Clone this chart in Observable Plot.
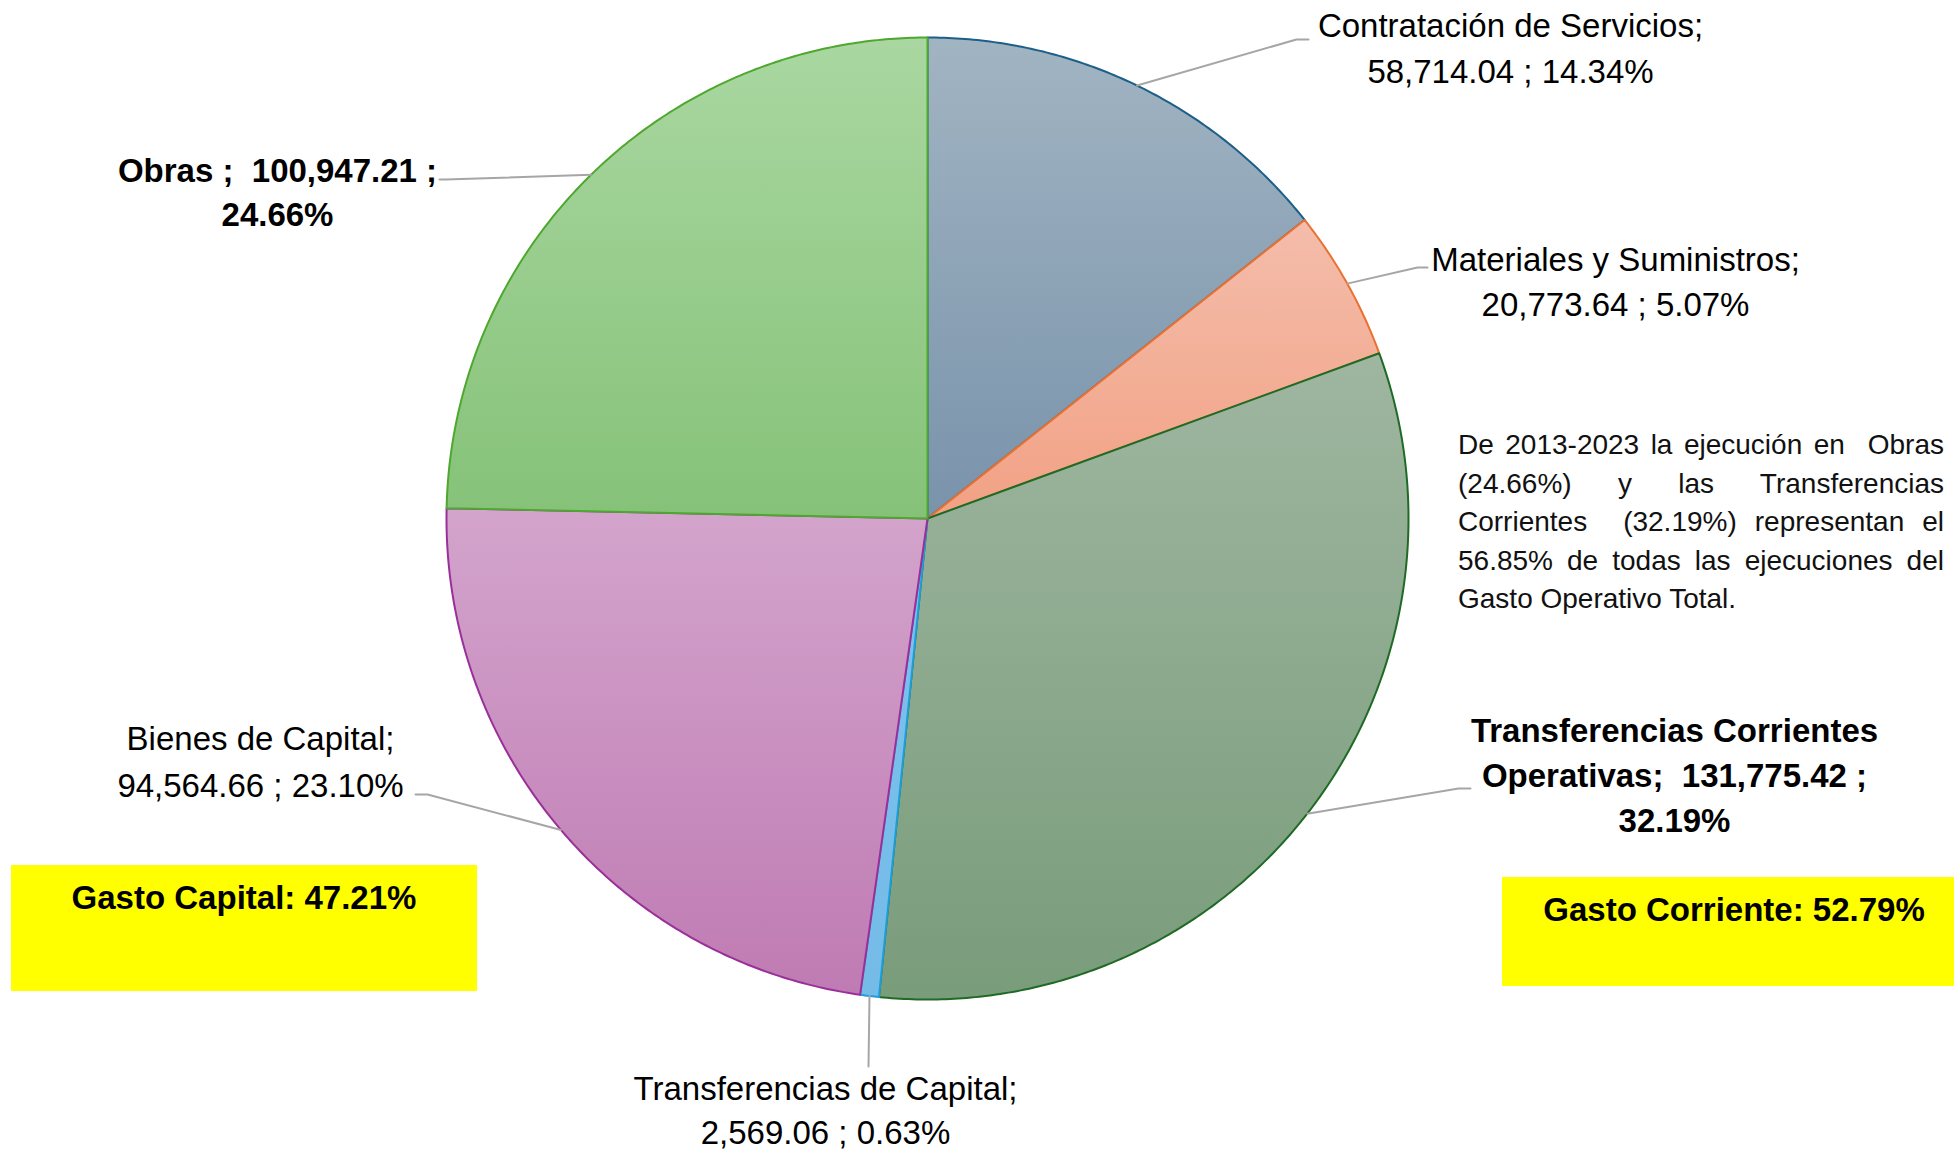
<!DOCTYPE html>
<html>
<head>
<meta charset="utf-8">
<script src="https://cdn.jsdelivr.net/npm/d3@7"></script>
<script src="https://cdn.jsdelivr.net/npm/@observablehq/plot@0.6"></script>
<style>
  body { margin: 0; background: #fff; }
  #wrap { position: relative; width: 1954px; height: 1150px; overflow: hidden; background: #fff; }
  #chart svg { display: block; }
  #note { position: absolute; left: 1458px; top: 426px; width: 486px; font-family: "Liberation Sans", Arial, sans-serif;
          font-size: 28px; line-height: 38.6px; text-align: justify; color: #111; white-space: pre-wrap; }
  .box { position: absolute; background: #ffff00; }
  .box div { position: absolute; left: 0; right: 0; text-align: center; font-family: "Liberation Sans", Arial, sans-serif;
             font-weight: 700; font-size: 33px; color: #000; white-space: nowrap; }
</style>
</head>
<body>
<div id="wrap">
  <div id="chart"></div>
  <div id="note"></div>
  <div id="boxCap" class="box" style="left:11px;top:865px;width:466px;height:126px;"><div style="top:14px;"></div></div>
  <div id="boxCor" class="box" style="left:1502px;top:877px;width:452px;height:109px;"><div style="top:14px;padding-left:12px;"></div></div>
</div>
<script>
// ---------------- DATA ----------------
const categories = [
  "Contratación de Servicios",
  "Materiales y Suministros",
  "Transferencias Corrientes Operativas",
  "Transferencias de Capital",
  "Bienes de Capital",
  "Obras"
];
const values = [58714.04, 20773.64, 131775.42, 2569.06, 94564.66, 100947.21];
const groupLabels = ["Gasto Capital", "Gasto Corriente"];
const groupShares = [47.21, 52.79];
const noteText = "De 2013-2023 la ejecución en  Obras (24.66%) y las Transferencias Corrientes  (32.19%) representan el 56.85% de todas las ejecuciones del Gasto Operativo Total.";

// ---------------- STYLE / LAYOUT ----------------
const W = 1954, H = 1150;
const CX = 927, CY = 518, R = 481;          // pie centre and radius in pixels
const gradTop    = ["#a1b4c2", "#f4bdab", "#9fb6a0", "#7ec2ee", "#d3a4cc", "#aad7a1"];
const gradBottom = ["#7993ab", "#f2a184", "#799c7b", "#74bbe8", "#bf7bb3", "#85c278"];
const strokes    = ["#1d5f87", "#e97132", "#1f6b25", "#1e9ed9", "#9a2f9a", "#4ea72e"];
// label layout: leader bend/end points and text block centre (pixels), font style
const labelLayout = [
  {bend: [1296, 39],  end: [1308, 39],  at: [1510, 45],  weight: 400, lh: 46, lines: (n, v, p) => [n + ";", v + " ; " + p]},
  {bend: [1417, 267], end: [1427, 267], at: [1615, 279], weight: 400, lh: 45, lines: (n, v, p) => [n + ";", v + " ; " + p]},
  {bend: [1458, 788], end: [1470, 788], at: [1674, 772], weight: 700, lh: 45, lines: (n, v, p) => ["Transferencias Corrientes", "Operativas;  " + v + " ;", p]},
  {bend: [868, 1066], end: [868, 1066], at: [825, 1107], weight: 400, lh: 44, lines: (n, v, p) => [n + ";", v + " ; " + p]},
  {bend: [427, 794],  end: [415, 794],  at: [260, 758],  weight: 400, lh: 47, lines: (n, v, p) => [n + ";", v + " ; " + p]},
  {bend: [445, 179],  end: [439, 179],  at: [277, 189],  weight: 700, lh: 44, lines: (n, v, p) => [n + " ;  " + v + " ;", p]}
];
const FONT = "Liberation Sans, Arial, sans-serif";
const FSIZE = 33;

// ---------------- BUILD ----------------
const total = d3.sum(values);
const fmtV = d3.format(",.2f");
const fmtP = v => (v / total * 100).toFixed(2) + "%";
const arcs = d3.pie().sort(null)(values);

// pixel -> data coordinates (unit circle space)
const px = x => (x - CX) / R;
const py = y => (CY - y) / R;

const slices = arcs.map((a, i) => {
  const n = Math.max(8, Math.ceil((a.endAngle - a.startAngle) / (Math.PI * 2) * 720));
  const pts = [{x: 0, y: 0}];
  for (let k = 0; k <= n; k++) {
    const t = a.startAngle + (a.endAngle - a.startAngle) * k / n;
    pts.push({x: Math.sin(t), y: Math.cos(t)});
  }
  pts.push({x: 0, y: 0});
  return pts;
});

const leaders = arcs.map((a, i) => {
  const m = (a.startAngle + a.endAngle) / 2;
  const L = labelLayout[i];
  return [
    {x: Math.sin(m), y: Math.cos(m)},
    {x: px(L.bend[0]), y: py(L.bend[1])},
    {x: px(L.end[0]), y: py(L.end[1])}
  ];
});

const marks = [];
slices.forEach((pts, i) => {
  marks.push(Plot.line(pts, {x: "x", y: "y", fill: `url(#grad${i})`, stroke: strokes[i], strokeWidth: 2, strokeLinejoin: "round", curve: "linear"}));
});
leaders.forEach(pts => {
  marks.push(Plot.line(pts, {x: "x", y: "y", stroke: "#a6a6a6", strokeWidth: 2, curve: "linear"}));
});
categories.forEach((c, i) => {
  const L = labelLayout[i];
  const txt = L.lines(c, fmtV(values[i]), fmtP(values[i])).join("\n");
  marks.push(Plot.text([{x: px(L.at[0]), y: py(L.at[1]), t: txt}], {
    x: "x", y: "y", text: "t", fill: "#000", fontFamily: FONT, fontSize: FSIZE, fontWeight: L.weight,
    lineHeight: L.lh / FSIZE, textAnchor: "middle", lineAnchor: "middle"
  }));
});

const chart = Plot.plot({
  width: W, height: H,
  margin: 0,
  x: {domain: [px(0), px(W)], range: [0, W], axis: null},
  y: {domain: [py(H), py(0)], range: [H, 0], axis: null},
  style: {background: "#fff", overflow: "visible"},
  marks
});

// gradients (per slice, top -> bottom)
const defs = d3.select(chart).insert("defs", ":first-child");
gradTop.forEach((c, i) => {
  const g = defs.append("linearGradient").attr("id", `grad${i}`).attr("x1", 0).attr("y1", 0).attr("x2", 0).attr("y2", 1);
  g.append("stop").attr("offset", "0%").attr("stop-color", c);
  g.append("stop").attr("offset", "100%").attr("stop-color", gradBottom[i]);
});

document.getElementById("chart").appendChild(chart);
document.getElementById("note").textContent = noteText;
document.querySelector("#boxCap div").textContent = `${groupLabels[0]}: ${groupShares[0].toFixed(2)}%`;
document.querySelector("#boxCor div").textContent = `${groupLabels[1]}: ${groupShares[1].toFixed(2)}%`;
</script>
</body>
</html>
